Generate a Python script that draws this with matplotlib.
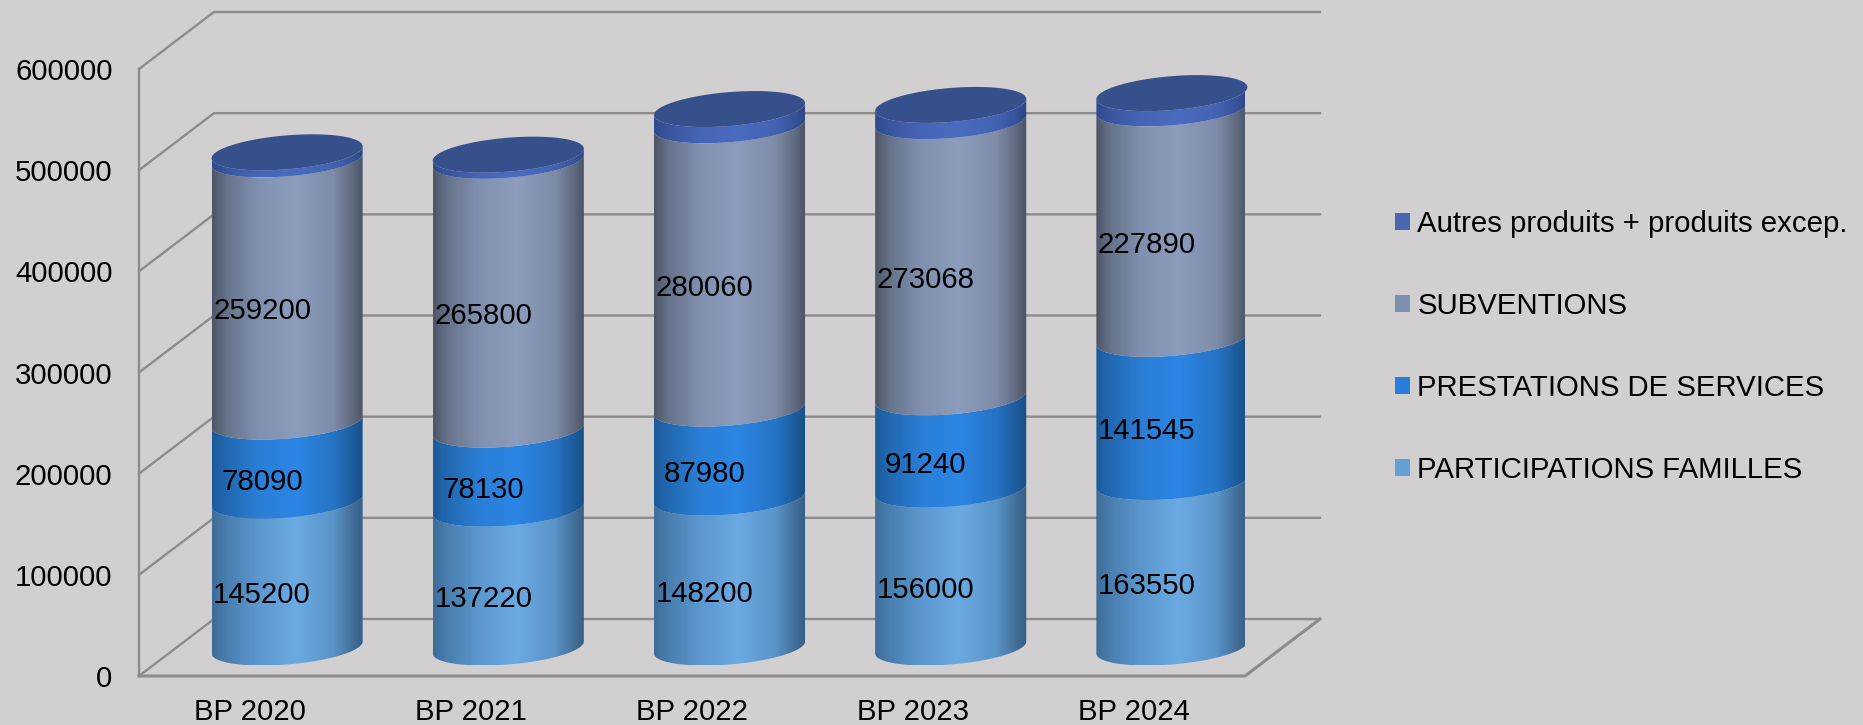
import numpy as np
import matplotlib
matplotlib.use("Agg")
import matplotlib.pyplot as plt
from matplotlib.colors import LinearSegmentedColormap
from matplotlib.patches import Patch, Polygon

categories = ["BP 2020", "BP 2021", "BP 2022", "BP 2023", "BP 2024"]
participations = [145200, 137220, 148200, 156000, 163550]
prestations = [78090, 78130, 87980, 91240, 141545]
subventions = [259200, 265800, 280060, 273068, 227890]
autres = [7000, 6000, 16000, 16000, 15000]  # unlabelled: estimated from ring height
yticks = [0, 100000, 200000, 300000, 400000, 500000, 600000]
series_names = ["PARTICIPATIONS FAMILLES", "PRESTATIONS DE SERVICES", "SUBVENTIONS",
                "Autres produits + produits excep."]
legend_colors = ["#659FD6", "#2A7DD9", "#7F90AE", "#4A66AE"]
stops = [0, 0.1, 0.3, 0.55, 0.8, 0.93, 1]
ramps = [["#3F6C98", "#4A7FB0", "#5C97CE", "#6BAAE2", "#5A94C8", "#426F98", "#365E84"],
         ["#1C5A9A", "#2269B2", "#2A7ED6", "#2C86E4", "#2674C6", "#1D5C9C", "#174E84"],
         ["#4C5667", "#67748C", "#8090AE", "#8C9CBC", "#7E8CA8", "#5F6A80", "#4A5364"],
         ["#2F4A8C", "#3A569E", "#4565B6", "#4A6CC0", "#4363B2", "#36529A", "#2C4684"]]

BG = "#D2CFD0"
GRID = "#8E8B8B"
W, H = 1863, 725
plt.rcParams["font.family"] = ["Liberation Sans", "DejaVu Sans"]
FS = 21.2

fig = plt.figure(figsize=(W / 100, H / 100), dpi=100, facecolor=BG)
L, R, B, T = 139, 1245, 676, 69
ax = fig.add_axes([L / W, (H - B) / H, (R - L) / W, (B - T) / H])
ax.set_facecolor("none")
ax.set_xlim(-0.5, 4.5)
ax.set_ylim(0, 600000)
for s in ax.spines.values():
    s.set_visible(False)

px = 5 / (R - L)           # category units per pixel
py = 600000 / (B - T)      # value units per pixel
DX, DY = 75 * px, 57 * py  # depth of the 3D box

# walls
for v in yticks:
    ax.plot([-0.5, -0.5 + DX, 4.5 + DX], [v, v + DY, v + DY], color=GRID, lw=1.7,
            clip_on=False, zorder=1, solid_joinstyle="miter")
ax.plot([-0.5, -0.5], [0, 600000], color=GRID, lw=1.7, clip_on=False, zorder=1)
ax.plot([-0.5, 4.5, 4.5 + DX], [0, 0, DY], color=GRID, lw=2.2, clip_on=False, zorder=1)

ax.set_xticks(range(5))
ax.set_xticklabels(categories, fontsize=FS)
ax.set_yticks(yticks)
ax.set_yticklabels([str(v) for v in yticks], fontsize=FS)
ax.tick_params(axis="x", length=0, pad=15.5, colors="black")
ax.tick_params(axis="y", length=0, pad=19, colors="black")

# oblique ellipse: silhouette half-width 75.5 px, half-height 18 px, tilted up to the right
A_PX, E_PX, F_PX = 71.2, 25.2, 18.0
PHI = np.arctan2(E_PX, A_PX)
t_front = np.linspace(PHI + np.pi, PHI + 2 * np.pi, 120)
t_all = np.linspace(0, 2 * np.pi, 240)


def ellipse(cat, val, t):
    cx = cat + DX / 2
    cy = val + DY / 2
    return (cx + (A_PX * np.cos(t) + E_PX * np.sin(t)) * px,
            cy + F_PX * np.sin(t) * py)


def cylinder(cat, lo, hi, ramp, z):
    cmap = LinearSegmentedColormap.from_list("r", list(zip(stops, ramp)))
    x0, y0 = ellipse(cat, lo, t_front)
    x1, y1 = ellipse(cat, hi, t_front)
    xs = np.r_[x0, x1[::-1]]
    ys = np.r_[y0, y1[::-1]]
    poly = Polygon(np.c_[xs, ys], closed=True, transform=ax.transData, fc="none", ec="none")
    ax.add_patch(poly)
    poly.set_clip_on(False)
    grad = np.linspace(0, 1, 256)[None, :]
    im = ax.imshow(grad, cmap=cmap, aspect="auto", interpolation="bilinear", zorder=z,
                   extent=[xs.min(), xs.max(), ys.min(), ys.max()])
    im.set_clip_path(poly)


stacks = [participations, prestations, subventions, autres]
for c in range(5):
    base = 0
    for s, vals in enumerate(stacks):
        cylinder(c, base, base + vals[c], ramps[s], 3 + s)
        base += vals[c]
    x, y = ellipse(c, base, t_all)
    ax.fill(x, y, color="#35508A", zorder=8, clip_on=False, lw=0)

ax.set_xlim(-0.5, 4.5)
ax.set_ylim(0, 600000)

# data labels
for c in range(5):
    base = 0
    for vals in stacks[:3]:
        ax.text(c + 12.5 * px, base + vals[c] / 2 + 7.5 * py, str(vals[c]), fontsize=FS,
                ha="center", va="center", color="black", zorder=10)
        base += vals[c]

handles = [Patch(fc=legend_colors[i], ec="none", label=series_names[i]) for i in (3, 2, 1, 0)]
fig.legend(handles=handles, loc="upper left", bbox_to_anchor=(1395 / W, (H - 210) / H),
           frameon=False, fontsize=FS, handlelength=0.52, handleheight=0.52,
           handletextpad=0.24, labelspacing=1.83, borderpad=0, borderaxespad=0)

fig.savefig("out.png", dpi=100, facecolor=BG)
